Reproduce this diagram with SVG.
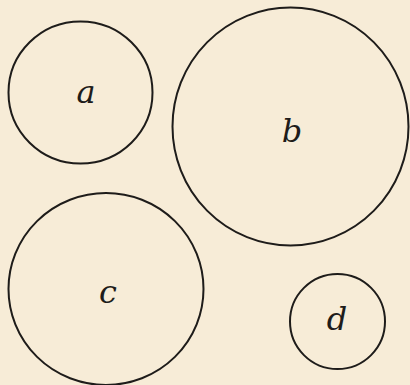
<svg xmlns="http://www.w3.org/2000/svg" width="410" height="385" viewBox="0 0 410 385">
<style>
.c{fill:none;stroke:#1e1c1a;stroke-width:2}
.t{font-family:"DejaVu Serif","Liberation Serif",serif;font-style:italic;font-size:32px;fill:#1e1c1a;text-anchor:middle}
</style>
<rect width="410" height="385" fill="#f7ecd7"/>
<g id="node-a"><ellipse class="c" cx="80.5" cy="92.5" rx="72" ry="71"/><text class="t" x="86" y="103">a</text></g>
<g id="node-b"><ellipse class="c" cx="290.5" cy="126.5" rx="118" ry="119"/><text class="t" x="292" y="142">b</text></g>
<g id="node-c"><ellipse class="c" cx="106" cy="289" rx="97.5" ry="96"/><text class="t" x="108" y="303">c</text></g>
<g id="node-d"><circle class="c" cx="337.5" cy="321.5" r="47.5"/><text class="t" x="337" y="330">d</text></g>
<g id="connectors"/>
</svg>
